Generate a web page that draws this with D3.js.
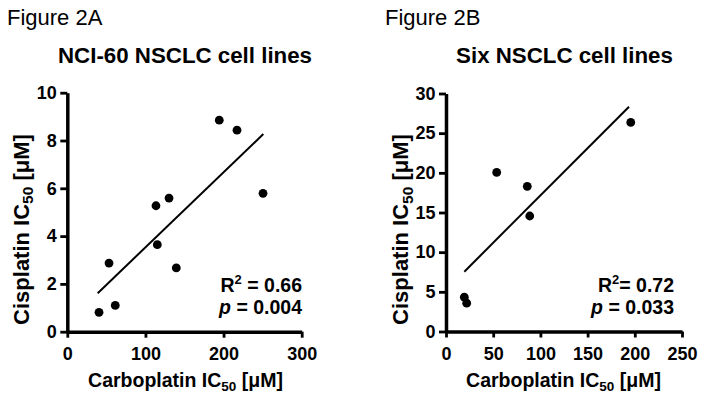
<!DOCTYPE html>
<html><head><meta charset="utf-8">
<script src="https://cdn.jsdelivr.net/npm/d3@7"></script>
<style>
body{margin:0;background:#fff;}
svg{display:block;font-family:"Liberation Sans",Arial,sans-serif;}
</style></head>
<body>
<svg id="c" width="704" height="400"></svg>
<script>
// Panel A data (NCI-60 NSCLC)
const aCarbo = [40.6, 53.4, 61.4, 113.5, 130.2, 115.2, 139.5, 194.5, 217.2, 250.5];
const aCis   = [0.81, 2.87, 1.10, 5.27, 5.59, 3.64, 2.67, 8.85, 8.43, 5.79];
const aFitX  = [38.9, 250.9];
const aFitY  = [1.61, 8.27];
const aXTicks = [0, 100, 200, 300];
const aYTicks = [0, 2, 4, 6, 8, 10];

// Panel B data (Six NSCLC)
const bCarbo = [19.4, 21.9, 53.7, 86.1, 88.7, 195.7];
const bCis   = [4.33, 3.57, 20.05, 18.3, 14.56, 26.36];
const bFitX  = [19.4, 193.9];
const bFitY  = [7.54, 28.33];
const bXTicks = [0, 50, 100, 150, 200, 250];
const bYTicks = [0, 5, 10, 15, 20, 25, 30];

const svg = d3.select("#c");

function panel(o){
  const x = d3.scaleLinear().domain(o.xd).range(o.xr);
  const y = d3.scaleLinear().domain(o.yd).range(o.yr);
  const g = svg.append("g");

  g.append("text").attr("x", o.figX).attr("y", 25).attr("font-size", 22).text(o.fig);
  g.append("text").attr("x", o.titleX).attr("y", 63).attr("font-size", 22.3)
    .attr("font-weight", "bold").attr("text-anchor", "middle").text(o.title);

  const xa = g.append("g").attr("transform", `translate(0,${o.yr[0]})`)
    .call(d3.axisBottom(x).tickValues(o.xt).tickSize(6).tickSizeOuter(0).tickPadding(10).tickFormat(d3.format("d")));
  const ya = g.append("g").attr("transform", `translate(${o.xr[0]},0)`)
    .call(d3.axisLeft(y).tickValues(o.yt).tickSize(7).tickSizeOuter(0).tickPadding(3.5).tickFormat(d3.format("d")));
  [xa, ya].forEach(a => {
    a.select(".domain").attr("stroke", "#000").attr("stroke-width", 3.5);
    a.selectAll(".tick line").attr("stroke", "#000").attr("stroke-width", 2.8);
    a.selectAll(".tick text").attr("fill", "#000").attr("font-size", 18)
      .attr("font-weight", "bold").attr("font-family", '"Liberation Sans",Arial,sans-serif');
  });

  const line = d3.line().x(d => x(d[0])).y(d => y(d[1]));
  g.append("path").attr("d", line(d3.zip(o.fx, o.fy)))
    .attr("stroke", "#000").attr("stroke-width", 2).attr("fill", "none");

  g.selectAll("circle.pt").data(d3.zip(o.px, o.py)).join("circle")
    .attr("cx", d => x(d[0])).attr("cy", d => y(d[1])).attr("r", 4.4).attr("fill", "#000");

  const xt = g.append("text").attr("x", o.xTitleX).attr("y", 387).attr("font-size", 19.5)
    .attr("font-weight", "bold").attr("text-anchor", "middle");
  xt.append("tspan").text("Carboplatin IC");
  xt.append("tspan").attr("font-size", 13.5).attr("dy", 4).text("50");
  xt.append("tspan").attr("dy", -4).text(" [\u03BCM]");

  const yt = g.append("text").attr("transform", `translate(${o.yTitleX},229.5) rotate(-90)`)
    .attr("font-size", 22).attr("font-weight", "bold").attr("text-anchor", "middle");
  yt.append("tspan").text("Cisplatin IC");
  yt.append("tspan").attr("font-size", 15.5).attr("dy", 4.5).text("50");
  yt.append("tspan").attr("dy", -4.5).text(" [\u03BCM]");

  const r = g.append("text").attr("x", o.statX).attr("y", 292).attr("font-size", 19.5)
    .attr("font-weight", "bold").attr("text-anchor", "end");
  r.append("tspan").text("R");
  r.append("tspan").attr("font-size", 13).attr("dy", -8).text("2");
  r.append("tspan").attr("dy", 8).text(o.rText);
  const p = g.append("text").attr("x", o.statX).attr("y", 313.5).attr("font-size", 19.5)
    .attr("font-weight", "bold").attr("text-anchor", "end");
  p.append("tspan").attr("font-style", "italic").text("p");
  p.append("tspan").text(o.pText);
}

panel({
  fig: "Figure 2A", figX: 7, title: "NCI-60 NSCLC cell lines", titleX: 185,
  xd: [0, 300], xr: [67.3, 301.7], yd: [0, 10], yr: [331.7, 92.7],
  xt: aXTicks, yt: aYTicks, px: aCarbo, py: aCis, fx: aFitX, fy: aFitY,
  xTitleX: 185.5, yTitleX: 28.5, statX: 302, rText: " = 0.66", pText: " = 0.004"
});
panel({
  fig: "Figure 2B", figX: 385, title: "Six NSCLC cell lines", titleX: 564.5,
  xd: [0, 250], xr: [446, 682], yd: [0, 30], yr: [331.5, 93.5],
  xt: bXTicks, yt: bYTicks, px: bCarbo, py: bCis, fx: bFitX, fy: bFitY,
  xTitleX: 563.5, yTitleX: 408, statX: 674, rText: "= 0.72", pText: " = 0.033"
});
</script>
</body></html>
